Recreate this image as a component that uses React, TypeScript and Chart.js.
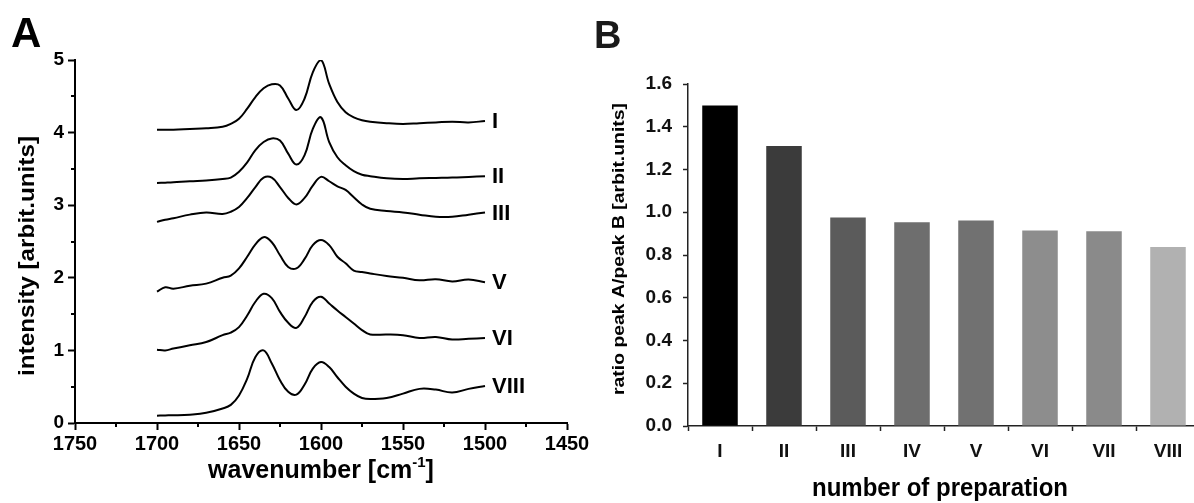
import React, { useEffect, useRef } from "react";
import { Chart, registerables } from "chart.js";

Chart.register(...registerables);

// ---------- Panel A data ----------
const wavenumbers = [1700, 1695, 1690, 1680, 1670, 1660, 1655, 1650, 1645, 1640, 1635, 1630, 1625, 1620, 1615, 1610, 1605, 1600, 1595, 1590, 1585, 1580, 1575, 1570, 1560, 1550, 1540, 1530, 1520, 1510, 1500];
const spectrumI = [4.04, 4.04, 4.04, 4.05, 4.06, 4.08, 4.12, 4.19, 4.33, 4.49, 4.61, 4.665, 4.65, 4.47, 4.31, 4.47, 4.83, 5.0, 4.67, 4.42, 4.28, 4.21, 4.17, 4.15, 4.13, 4.12, 4.13, 4.14, 4.15, 4.14, 4.16];
const spectrumII = [3.306, 3.31, 3.315, 3.33, 3.34, 3.36, 3.38, 3.46, 3.59, 3.76, 3.87, 3.92, 3.89, 3.71, 3.56, 3.69, 4.05, 4.21, 3.87, 3.66, 3.55, 3.47, 3.42, 3.4, 3.37, 3.36, 3.37, 3.375, 3.38, 3.39, 3.4];
const spectrumIII = [2.77, 2.8, 2.82, 2.87, 2.9, 2.88, 2.91, 2.975, 3.1, 3.25, 3.38, 3.38, 3.25, 3.1, 3.01, 3.1, 3.27, 3.39, 3.33, 3.26, 3.21, 3.11, 3.01, 2.95, 2.92, 2.9, 2.87, 2.84, 2.84, 2.87, 2.9];
const spectrumV = [1.81, 1.87, 1.85, 1.89, 1.92, 2.0, 2.03, 2.13, 2.29, 2.46, 2.56, 2.49, 2.31, 2.15, 2.13, 2.26, 2.45, 2.52, 2.45, 2.29, 2.2, 2.1, 2.08, 2.06, 2.025, 2.0, 1.965, 1.98, 1.95, 1.975, 1.94];
const spectrumVI = [1.01, 1.0, 1.025, 1.07, 1.115, 1.21, 1.245, 1.32, 1.48, 1.67, 1.78, 1.72, 1.53, 1.38, 1.31, 1.46, 1.67, 1.74, 1.645, 1.55, 1.46, 1.37, 1.28, 1.22, 1.22, 1.21, 1.17, 1.185, 1.15, 1.16, 1.17];
const spectrumVIII = [0.1, 0.105, 0.106, 0.115, 0.14, 0.2, 0.25, 0.38, 0.61, 0.91, 1.0, 0.82, 0.59, 0.43, 0.39, 0.53, 0.75, 0.84, 0.77, 0.63, 0.5, 0.405, 0.345, 0.33, 0.345, 0.405, 0.47, 0.46, 0.42, 0.47, 0.51];
const spectrumLabels = ["I", "II", "III", "V", "VI", "VIII"];
const spectra = [spectrumI, spectrumII, spectrumIII, spectrumV, spectrumVI, spectrumVIII];
const minorWavenumberTicks = [1725, 1675, 1625, 1575, 1525, 1475];
const minorIntensityTicks = [0.5, 1.5, 2.5, 3.5, 4.5];

// ---------- Panel B data ----------
const preparations = ["I", "II", "III", "IV", "V", "VI", "VII", "VIII"];
const ratios = [1.5, 1.31, 0.975, 0.953, 0.961, 0.915, 0.911, 0.837];
const barColors = ["#000000", "#3b3b3b", "#5b5b5b", "#6e6e6e", "#717171", "#8d8d8d", "#8a8a8a", "#b1b1b1"];

const SANS = '"Liberation Sans", Arial, sans-serif';
const NARROW = '"Liberation Sans Narrow", "Arial Narrow", "Liberation Sans", Arial, sans-serif';

function drawFitted(ctx: CanvasRenderingContext2D, text: string, cx: number, cy: number, font: string, rotate: number, targetLen?: number) {
  ctx.save();
  ctx.font = font;
  ctx.fillStyle = "#000";
  ctx.textAlign = "center";
  ctx.textBaseline = "middle";
  ctx.translate(cx, cy);
  ctx.rotate(rotate);
  if (targetLen) {
    const w = ctx.measureText(text).width;
    ctx.scale(targetLen / w, 1);
  }
  ctx.fillText(text, 0, 0);
  ctx.restore();
}

const panelAPlugin = {
  id: "panelA",
  afterDraw(chart: any) {
    const ctx: CanvasRenderingContext2D = chart.ctx;
    const xs = chart.scales.x;
    const ys = chart.scales.y;
    ctx.save();
    ctx.strokeStyle = "#000";
    ctx.lineWidth = 2;
    minorWavenumberTicks.forEach((v) => {
      const px = Math.round(xs.getPixelForValue(v));
      ctx.beginPath();
      ctx.moveTo(px, ys.bottom);
      ctx.lineTo(px, ys.bottom + 4);
      ctx.stroke();
    });
    minorIntensityTicks.forEach((v) => {
      const py = Math.round(ys.getPixelForValue(v));
      ctx.beginPath();
      ctx.moveTo(xs.left, py);
      ctx.lineTo(xs.left - 4, py);
      ctx.stroke();
    });
    // curve labels
    ctx.fillStyle = "#000";
    ctx.font = `bold 22px ${SANS}`;
    ctx.textAlign = "left";
    ctx.textBaseline = "middle";
    chart.data.datasets.forEach((_ds: any, i: number) => {
      const meta = chart.getDatasetMeta(i);
      const pt = meta.data[meta.data.length - 1];
      ctx.fillText(spectrumLabels[i], pt.x + 7, pt.y + 1);
    });
    // panel letter
    ctx.font = `bold 42px ${SANS}`;
    ctx.textBaseline = "alphabetic";
    ctx.fillText("A", 11, 47);
    ctx.restore();
    // y title
    drawFitted(ctx, "intensity [arbit.units]", 28, 256, `bold 22px ${SANS}`, -Math.PI / 2, 240);
    // x title with superscript
    ctx.save();
    ctx.fillStyle = "#000";
    ctx.textBaseline = "alphabetic";
    const main = "wavenumber [cm";
    const sup = "-1";
    const end = "]";
    ctx.font = `bold 25px ${SANS}`;
    const wMain = ctx.measureText(main).width;
    const wEnd = ctx.measureText(end).width;
    ctx.font = `bold 15px ${SANS}`;
    const wSup = ctx.measureText(sup).width;
    const total = wMain + wSup + wEnd;
    const cx = (xs.left + xs.right) / 2;
    const x0 = cx - total / 2;
    const base = 478;
    ctx.textAlign = "left";
    ctx.font = `bold 25px ${SANS}`;
    ctx.fillText(main, x0, base);
    ctx.font = `bold 15px ${SANS}`;
    ctx.fillText(sup, x0 + wMain, base - 11);
    ctx.font = `bold 25px ${SANS}`;
    ctx.fillText(end, x0 + wMain + wSup, base);
    ctx.restore();
  },
};

const panelBPlugin = {
  id: "panelB",
  afterDraw(chart: any) {
    const ctx: CanvasRenderingContext2D = chart.ctx;
    ctx.save();
    ctx.fillStyle = "#1a1a1a";
    ctx.font = `bold 38px ${SANS}`;
    ctx.textAlign = "left";
    ctx.textBaseline = "alphabetic";
    ctx.fillText("B", 14, 48);
    ctx.restore();
    drawFitted(ctx, "ratio peak A/peak B [arbit.units]", 39, 249, `bold 17px ${SANS}`, -Math.PI / 2, 292);
    drawFitted(ctx, "number of preparation", 940 - 580, 489, `bold 25px ${SANS}`, 0, 256);
  },
};

function SpectraChart() {
  const ref = useRef<HTMLCanvasElement>(null);
  useEffect(() => {
    if (!ref.current) return;
    const chart = new Chart(ref.current, {
      type: "line",
      data: {
        datasets: spectra.map((s, i) => ({
          label: spectrumLabels[i],
          data: wavenumbers.map((w, j) => ({ x: w, y: s[j] })),
          borderColor: "#000",
          borderWidth: 2,
          pointRadius: 0,
          tension: 0.4,
          fill: false,
        })),
      },
      options: {
        responsive: false,
        animation: false,
        events: [],
        layout: { padding: { left: 0, right: 33, top: 60, bottom: 0 } },
        plugins: { legend: { display: false }, tooltip: { enabled: false }, title: { display: false } },
        scales: {
          x: {
            type: "linear",
            min: 1450,
            max: 1750,
            reverse: true,
            afterFit: (s: any) => { s.height = 80; },
            ticks: { stepSize: 50, autoSkip: false, maxRotation: 0, color: "#000", font: { family: SANS, weight: "bold", size: 20 }, padding: 2, callback: (v: any) => String(v) },
            grid: { drawOnChartArea: false, drawTicks: true, tickLength: 7, tickColor: "#000", tickWidth: 2 },
            border: { display: true, color: "#000", width: 2 },
          },
          y: {
            type: "linear",
            min: 0,
            max: 5,
            afterFit: (s: any) => { s.width = 75; },
            ticks: { stepSize: 1, autoSkip: false, color: "#000", font: { family: SANS, weight: "bold", size: 19 }, padding: 4, callback: (v: any) => String(v) },
            grid: { drawOnChartArea: false, drawTicks: true, tickLength: 7, tickColor: "#000", tickWidth: 2 },
            border: { display: true, color: "#000", width: 2 },
          },
        },
      },
      plugins: [panelAPlugin],
    } as any);
    return () => chart.destroy();
  }, []);
  return <canvas ref={ref} width={600} height={503} style={{ position: "absolute", left: 0, top: 0 }} />;
}

function RatioChart() {
  const ref = useRef<HTMLCanvasElement>(null);
  useEffect(() => {
    if (!ref.current) return;
    const chart = new Chart(ref.current, {
      type: "bar",
      data: {
        labels: preparations,
        datasets: [
          {
            data: ratios,
            backgroundColor: barColors,
            borderWidth: 0,
            categoryPercentage: 1,
            barPercentage: 0.555,
          },
        ],
      },
      options: {
        responsive: false,
        animation: false,
        events: [],
        layout: { padding: { left: 0, right: 20, top: 84, bottom: 0 } },
        plugins: { legend: { display: false }, tooltip: { enabled: false }, title: { display: false } },
        scales: {
          x: {
            afterFit: (s: any) => { s.height = 77; },
            ticks: { autoSkip: false, maxRotation: 0, color: "#111", font: { family: NARROW, weight: "bold", size: 19 }, padding: 9 },
            grid: { offset: true, drawOnChartArea: false, drawTicks: true, tickLength: 5, tickColor: "#222", tickWidth: 1.5 },
            border: { display: true, color: "#222", width: 1.5 },
          },
          y: {
            min: 0,
            max: 1.6,
            afterFit: (s: any) => { s.width = 108; },
            ticks: { stepSize: 0.2, autoSkip: false, color: "#111", font: { family: NARROW, weight: "bold", size: 19 }, padding: 11, callback: (v: any) => Number(v).toFixed(1) },
            grid: { drawOnChartArea: false, drawTicks: true, tickLength: 5, tickColor: "#222", tickWidth: 1.5 },
            border: { display: true, color: "#222", width: 1.5 },
          },
        },
      },
      plugins: [panelBPlugin],
    } as any);
    return () => chart.destroy();
  }, []);
  return <canvas ref={ref} width={640} height={503} style={{ position: "absolute", left: 580, top: 0 }} />;
}

export default function App() {
  return (
    <div style={{ position: "fixed", left: 0, top: 0, width: 1194, height: 503, overflow: "hidden", background: "#fff" }}>
      <SpectraChart />
      <RatioChart />
    </div>
  );
}
